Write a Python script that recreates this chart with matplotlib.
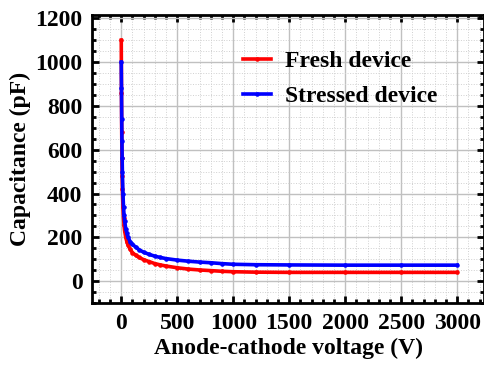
import numpy as np
import matplotlib.pyplot as plt
from matplotlib.ticker import MultipleLocator

plt.rcParams["font.family"] = "Liberation Serif"
plt.rcParams["font.weight"] = "bold"
plt.rcParams["font.size"] = 17

# C-V data
voltage = [0, 2, 4, 6, 8, 10, 15, 20, 25, 30, 40, 50, 60, 80, 100, 130, 160,
           200, 250, 300, 350, 400, 500, 600, 700, 800, 900, 1000, 1200, 1500,
           2000, 2500, 3000]
fresh = [1100, 860, 680, 560, 480, 420, 340, 290, 255, 230, 200, 180, 165, 145,
         130, 118, 108, 98, 89, 80, 74, 69, 61, 55, 51, 48, 45, 43, 41, 40, 40,
         40, 40]
stressed = [1000, 880, 740, 640, 560, 500, 400, 340, 300, 275, 240, 218, 200,
            180, 168, 155, 143, 132, 122, 114, 108, 103, 96, 91, 87, 84, 80, 77,
            75, 74, 73, 73, 73]

fig = plt.figure(figsize=(4.85, 3.66), dpi=100)
ax = fig.add_axes([0.19, 0.172, 0.808, 0.787])

ax.plot(voltage, fresh, color="red", lw=2.6, marker=".", ms=4.5, label="Fresh device")
ax.plot(voltage, stressed, color="blue", lw=2.6, marker=".", ms=4.5, label="Stressed device")

ax.set_xlim(-260, 3240)
ax.set_ylim(-100, 1215)
ax.xaxis.set_major_locator(MultipleLocator(500))
ax.xaxis.set_minor_locator(MultipleLocator(100))
ax.yaxis.set_major_locator(MultipleLocator(200))
ax.yaxis.set_minor_locator(MultipleLocator(50))

ax.grid(which="major", color="#c0c0c0", lw=1.0)
ax.grid(which="minor", color="#d0d0d0", lw=0.7, ls=":")
ax.set_axisbelow(True)

for s in ax.spines.values():
    s.set_linewidth(2)
ax.tick_params(which="both", direction="in", top=True, right=True, width=2)
ax.tick_params(which="major", length=5, pad=7)
ax.tick_params(which="minor", length=3)

ax.set_xlabel("Anode-cathode voltage (V)", fontweight="bold", labelpad=3)
ax.set_ylabel("Capacitance (pF)", fontweight="bold", labelpad=3)

ax.legend(loc="upper left", bbox_to_anchor=(0.33, 0.95), frameon=False,
          handlelength=1.2, handletextpad=0.6, labelspacing=0.58,
          prop={"weight": "bold", "size": 17})

fig.savefig("out.png", dpi=100)
